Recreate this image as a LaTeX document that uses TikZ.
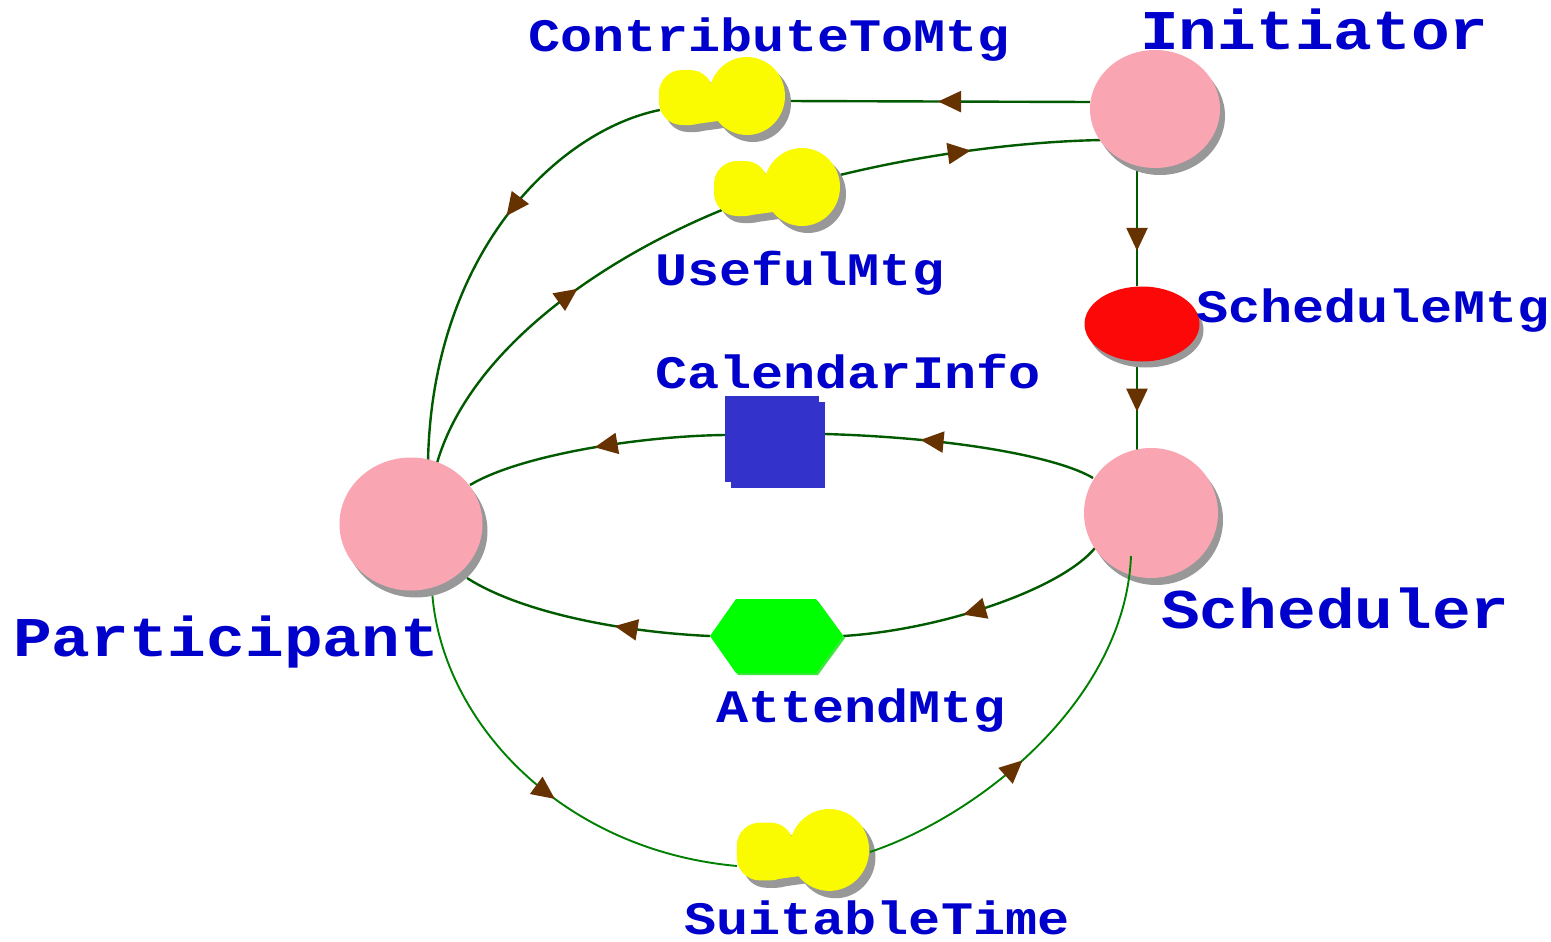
\documentclass[tikz,border=0pt]{standalone}
\usepackage{fontspec}
\setmonofont{Liberation Mono}
\usetikzlibrary{arrows.meta,decorations.markings,shadows,shapes.geometric}
\pgfdeclarelayer{background}
\pgfsetlayers{background,main}
\definecolor{actorpink}{RGB}{250,165,178}
\definecolor{shadowgray}{RGB}{152,152,152}
\definecolor{labelblue}{RGB}{0,0,204}
\definecolor{goalred}{RGB}{252,8,8}
\definecolor{resblue}{RGB}{51,51,204}
\definecolor{taskgreen}{RGB}{0,255,0}
\definecolor{taskshadow}{RGB}{60,230,60}
\definecolor{sgyellow}{RGB}{250,250,0}
\definecolor{linkdark}{RGB}{0,90,0}
\definecolor{linklight}{RGB}{0,128,0}
\definecolor{arrowbrown}{RGB}{102,51,0}
\newcommand\squash[1]{\scalebox{1}[0.87]{#1}}
\newcommand\sgshape[1]{%
  \fill[#1] (-63,-27) [rounded corners=23pt] rectangle (-9,28);
  \fill[#1] (25,-1) ellipse (38 and 39);
  \fill[#1] (-26,-12) -- (-10,-14) -- (-4,24) -- (-26,27) -- cycle;}
\newcommand\softgoal[4]{%
  \begin{scope}[shift={(#2,#3)}, scale=#4]
    \begin{scope}[shift={(6,7)}]\sgshape{shadowgray}\end{scope}
    \sgshape{sgyellow}
  \end{scope}
  \node[sgnode, minimum width=#4*128pt, minimum height=#4*78pt] (#1) at (#2,#3) {};}
\tikzset{
  actor/.style={ellipse, fill=actorpink, draw=none, inner sep=0pt,
    general shadow={fill=shadowgray, shadow xshift=5pt, shadow yshift=-7pt}},
  goalnode/.style={ellipse, fill=goalred, draw=none, inner sep=0pt,
    minimum width=115pt, minimum height=75pt,
    general shadow={fill=shadowgray, shadow xshift=4pt, shadow yshift=-6pt}},
  resnode/.style={rectangle, fill=resblue, draw=none, inner sep=0pt,
    minimum width=94pt, minimum height=86pt,
    general shadow={fill=resblue, shadow xshift=6pt, shadow yshift=-6pt}},
  sgnode/.style={ellipse, draw=none, inner sep=0pt},
  hexnode/.style={rectangle, draw=none, inner sep=0pt, minimum width=133pt, minimum height=74pt},
  biglabel/.style={text=labelblue, font=\ttfamily\bfseries\fontsize{64.5}{64.5}\selectfont, inner sep=0pt, anchor=base west},
  smalllabel/.style={text=labelblue, font=\ttfamily\bfseries\fontsize{53.5}{53.5}\selectfont, inner sep=0pt, anchor=base west},
  dep/.style={draw=linkdark, line width=2.4pt},
  deplight/.style={draw=linklight, line width=1.9pt},
  arrowat/.style={postaction={decorate, decoration={markings,
    mark=at position #1 with {\arrow{Triangle[length=23pt,width=21pt,fill=arrowbrown,color=arrowbrown]}}}}}
}
\begin{document}
\begin{tikzpicture}[x=1pt,y=-1pt]
\useasboundingbox (0,0) rectangle (1551,942);

% actors
\node[actor, minimum width=130pt, minimum height=118pt] (ini) at (1155,109) {};
\node[actor, minimum width=134pt, minimum height=130pt] (sch) at (1151,513) {};
\node[actor, minimum width=143pt, minimum height=133pt] (par) at (411,524) {};

% goal, resource, task
\node[goalnode] (sm) at (1142,324) {};
\node[resnode] (ci) at (772,439) {};
\fill[taskshadow] (712,638) -- (738,601) -- (818,601) -- (845,638) -- (818,675) -- (738,675) -- cycle;
\fill[taskgreen] (710,636) -- (736,599) -- (816,599) -- (843,636) -- (816,673) -- (736,673) -- cycle;
\node[hexnode] (am) at (776.5,636) {};

% softgoals
\softgoal{cto}{722}{97}{1}
\softgoal{um}{777}{188}{1}
\softgoal{st}{803}{851}{1.05}

% labels
\node[biglabel] (lini) at (1140,50) {\squash{Initiator}};
\node[biglabel] (lsch) at (1161,628) {\squash{Scheduler}};
\node[biglabel] (lpar) at (13,656) {\squash{Participant}};
\node[smalllabel] (lcto) at (528,52) {\squash{ContributeToMtg}};
\node[smalllabel] (lum) at (655,285) {\squash{UsefulMtg}};
\node[smalllabel] (lsm) at (1196,322) {\squash{ScheduleMtg}};
\node[smalllabel] (lci) at (655,388) {\squash{CalendarInfo}};
\node[smalllabel] (lam) at (716,722) {\squash{AttendMtg}};
\node[smalllabel] (lst) at (684,934) {\squash{SuitableTime}};

\begin{pgfonlayer}{background}
\fill[white] (0,0) rectangle (1551,942);
% ContributeToMtg
\path[dep, arrowat=0.5] ([shift={(-65,-7)}]ini.center) -- ([shift={(0,4)}]cto.east);
\path[dep, arrowat=0.42] ([shift={(2,13)}]cto.west) .. controls (560,130) and (432,250) .. ([shift={(17,-62)}]par.center);
% UsefulMtg
\path[dep, arrowat=0.58] ([shift={(26,-61)}]par.center) .. controls (470,350) and (600,260) .. ([shift={(-55,22)}]um.center);
\path[dep, arrowat=0.51] ([shift={(59,-12)}]um.center) .. controls (900,160) and (1000,142) .. ([shift={(-53,31)}]ini.center);
% ScheduleMtg
\path[dep, arrowat=0.71] ([shift={(-18,55)}]ini.center) -- ([shift={(-5,0)}]sm.north);
\path[dep, arrowat=0.56] ([shift={(-5,0)}]sm.south) -- ([shift={(-14,-62)}]sch.center);
% CalendarInfo
\path[dep, arrowat=0.65] ([shift={(-58,-35)}]sch.center) .. controls (1060,458) and (960,438) .. ([shift={(6,-5)}]ci.east);
\path[dep, arrowat=0.5] ([shift={(0,-4)}]ci.west) .. controls (640,436) and (520,455) .. ([shift={(59,-39)}]par.center);
% AttendMtg
\path[dep, arrowat=0.55] ([shift={(-56,35)}]sch.center) .. controls (1060,590) and (940,630) .. (am.east);
\path[dep, arrowat=0.38] (am.west) .. controls (620,632) and (520,612) .. ([shift={(56,54)}]par.center);
% SuitableTime
\path[deplight, arrowat=0.56] ([shift={(21,66)}]par.center) .. controls (440,720) and (560,850) .. ([shift={(-66,15)}]st.center);
\end{pgfonlayer}
\path[deplight, arrowat=0.43] ([shift={(67,1)}]st.center) .. controls (980,815) and (1125,700) .. ([shift={(-20,43)}]sch.center);
\end{tikzpicture}
\end{document}
